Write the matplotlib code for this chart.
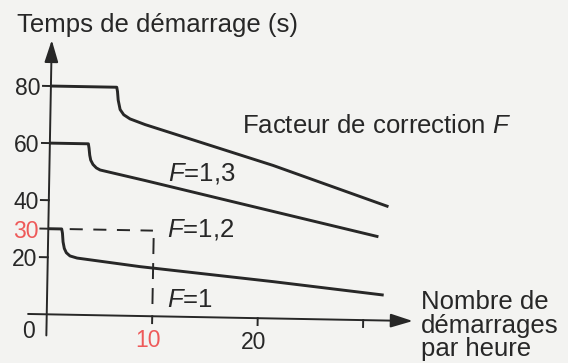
import matplotlib
matplotlib.use('Agg')
import matplotlib.pyplot as plt
from matplotlib.transforms import Affine2D
from matplotlib.patches import FancyArrowPatch, ArrowStyle

plt.rcParams['font.family'] = 'Liberation Sans'
plt.rcParams['mathtext.fontset'] = 'custom'
plt.rcParams['mathtext.rm'] = 'Liberation Sans'
plt.rcParams['mathtext.it'] = 'Liberation Sans:italic'
plt.rcParams['lines.scale_dashes'] = False

# temps de démarrage en fonction du nombre de démarrages par heure
f13_x = [0, 6.24, 6.32, 6.4, 6.6, 6.95, 7.55, 8.99, 21.2, 32.2]
f13_y = [80, 80, 78.5, 75.5, 72.2, 70.4, 69.0, 67.1, 53.6, 39.9]

f12_x = [0, 3.65, 3.72, 3.8, 3.9, 4.12, 4.45, 4.81, 9.09, 18.1, 31.3]
f12_y = [60, 60, 58.5, 56.0, 54.3, 52.8, 51.6, 50.9, 47.5, 40.1, 29.3]

f1_x = [0, 1.27, 1.35, 1.42, 1.55, 1.75, 2.1, 2.78, 8.76, 21.4, 31.9]
f1_y = [30, 30, 28.5, 25.5, 23.2, 21.7, 20.6, 19.9, 17.3, 12.9, 8.9]

# lecture : 10 démarrages/h -> 30 s
lecture_x = 10
lecture_y = 30

yticks = [20, 30, 40, 60, 80]
xticks = [10, 20, 30]
xticklabels = ['10', '20', '']

ink = '#272727'
red = '#ee5a5a'

fig = plt.figure(figsize=(5.68, 3.63), dpi=100, facecolor='#f3f3f1')
ax = fig.add_axes([0, 0, 1, 1])
ax.set_xlim(-4.43, 49.41)
ax.set_ylim(-17.06, 110.13)
ax.axis('off')

# la page est un peu de travers
tr = ax.transData + Affine2D().rotate_deg_around(46.7, 48.7, -1.05)

# axes avec flèches
head = ArrowStyle('-|>', head_length=1.35, head_width=0.42)
for a, b in [((0, -7.4), (0, 96.1)), ((-1.77, 0), (34.7, 0))]:
    arr = FancyArrowPatch(a, b, arrowstyle=head, mutation_scale=10,
                          shrinkA=0, shrinkB=0, lw=1.4, color=ink,
                          transform=tr)
    ax.add_patch(arr)

# graduations
tfs = 16.5
for t in yticks:
    ax.plot([-0.75, 0], [t, t], color=ink, lw=1.4, transform=tr)
    ax.text(-0.95, t - 3.3, str(t), ha='right', va='baseline', fontsize=tfs,
            color=red if t == lecture_y else ink, transform=tr)
for t, lab in zip(xticks, xticklabels):
    ax.plot([t, t], [0, -2.4], color=ink, lw=1.4, transform=tr)
    ax.text(t - 0.3, -10.8, lab, ha='center', va='baseline', fontsize=tfs,
            color=red if t == lecture_x else ink, transform=tr)
ax.text(-1.74, -6.3, '0', ha='center', va='center', fontsize=tfs,
        color=ink, transform=tr)

# courbes
for xs, ys in [(f13_x, f13_y), (f12_x, f12_y), (f1_x, f1_y)]:
    ax.plot(xs, ys, color=ink, lw=2.1, solid_joinstyle='round',
            solid_capstyle='butt', transform=tr)

# tirets de lecture
ax.plot([2.03, lecture_x - 0.08], [lecture_y, lecture_y], color=ink, lw=1.4,
        dashes=(9.4, 7.6), transform=tr)
ax.plot([lecture_x, lecture_x], [lecture_y - 2.6, 3.9], color=ink, lw=1.4,
        dashes=(11.5, 6.5), transform=tr)

# textes
fs = 18.5
ax.text(-3.3, 98.8, 'Temps de démarrage (s)', fontsize=fs, color=ink,
        ha='left', va='baseline', transform=tr)
ax.text(18.17, 64.7, 'Facteur de correction $F$', fontsize=fs, color=ink,
        ha='left', va='baseline', transform=tr)
ax.text(11.29, 47.8, '$F$=1,3', fontsize=fs, color=ink,
        ha='left', va='baseline', transform=tr)
ax.text(11.24, 28.0, '$F$=1,2', fontsize=fs, color=ink,
        ha='left', va='baseline', transform=tr)
ax.text(11.36, 3.4, '$F$=1', fontsize=fs, color=ink,
        ha='left', va='baseline', transform=tr)
ax.text(35.5, -12.2, 'Nombre de\ndémarrages\npar heure', fontsize=fs,
        color=ink, ha='left', va='baseline', linespacing=0.97, transform=tr)

fig.savefig('out.png', dpi=100)
